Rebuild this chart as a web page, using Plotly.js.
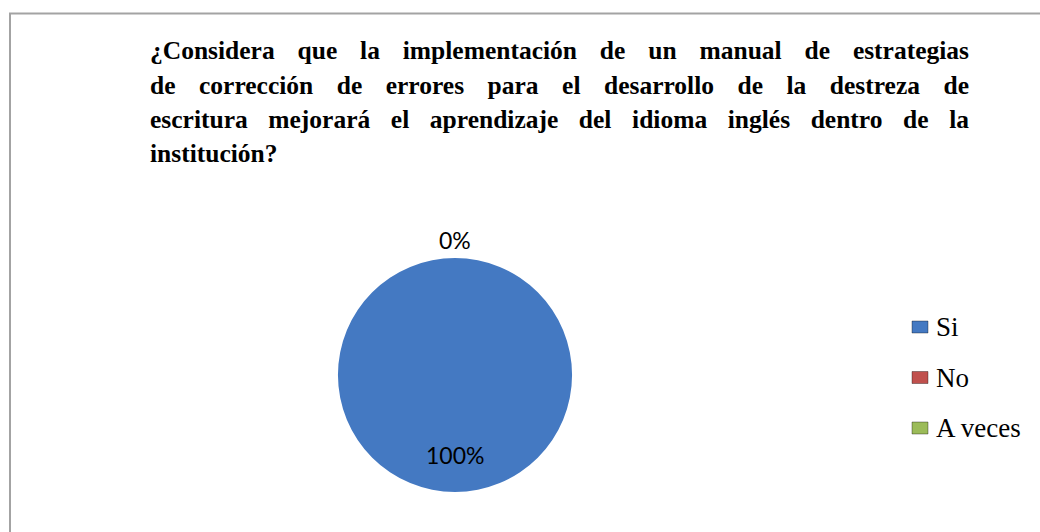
<!DOCTYPE html>
<html>
<head>
<meta charset="utf-8">
<script src="https://cdn.plot.ly/plotly-3.0.1.min.js"></script>
<style>
html,body{margin:0;padding:0;background:#fff;}
#chart{width:1040px;height:532px;}
</style>
</head>
<body>
<div id="chart"></div>
<script>
// ---- data ----
const categories = ['Si', 'No', 'A veces'];
const values = [100, 0, 0];
const sliceColors = ['#4479c2', '#c0504d', '#9bbb59'];
const titleLines = [
  '¿Considera que la implementación de un manual de estrategias',
  'de corrección de errores para el desarrollo de la destreza de',
  'escritura mejorará el aprendizaje del idioma inglés dentro de la',
  'institución?'
];

// ---- layout constants (pixels) ----
const W = 1040, H = 532;
const cx = 455, cy = 375, R = 117;
const px = x => x / W;
const py = y => 1 - y / H;
const SERIF = 'Liberation Serif';

const total = values.reduce((a, b) => a + b, 0);

const pie = {
  type: 'pie',
  labels: categories,
  values: values,
  sort: false,
  direction: 'clockwise',
  rotation: 0,
  textinfo: 'none',
  hoverinfo: 'skip',
  showlegend: false,
  marker: { colors: sliceColors, line: { width: 0 } },
  domain: { x: [px(cx - R), px(cx + R)], y: [py(cy + R), py(cy - R)] }
};

const annotations = [];
const shapes = [];

// title lines (justified after render)
const titleY = [51, 85, 119, 153];
titleLines.forEach((t, i) => {
  annotations.push({
    xref: 'paper', yref: 'paper', x: px(148), y: py(titleY[i]),
    xanchor: 'left', yanchor: 'middle', align: 'left', showarrow: false,
    text: '<b>' + t + '</b>',
    font: { family: SERIF, size: 25.5, color: '#000' }
  });
});

// percentage labels at each slice's mid-angle (clockwise from 12 o'clock)
let cum = 0;
const seen = {};
values.forEach((v, i) => {
  const frac = v / total;
  const mid = (cum + frac / 2) * 2 * Math.PI;
  cum += frac;
  const pct = Math.round(frac * 100) + '%';
  const k = frac > 0.05 ? 0.68 : 1.15;
  const x = cx + R * k * Math.sin(mid);
  const y = cy - R * k * Math.cos(mid);
  const key = pct + Math.round(x) + '_' + Math.round(y);
  if (seen[key]) return;
  seen[key] = true;
  annotations.push({
    xref: 'paper', yref: 'paper', x: px(x), y: py(y),
    xanchor: 'center', yanchor: 'middle', showarrow: false,
    text: pct, font: { family: 'Lato', size: 23, color: '#000' }
  });
});

// legend
const legTop = 327, legGap = 50.5;
categories.forEach((c, i) => {
  const yc = legTop + i * legGap;
  shapes.push({
    type: 'rect', xref: 'paper', yref: 'paper',
    x0: px(912), x1: px(928), y0: py(yc + 6), y1: py(yc - 6),
    fillcolor: sliceColors[i], line: { color: 'rgba(0,0,0,0.35)', width: 1 }
  });
  annotations.push({
    xref: 'paper', yref: 'paper', x: px(934), y: py(yc),
    xanchor: 'left', yanchor: 'middle', align: 'left', showarrow: false,
    text: c, font: { family: SERIF, size: 27, color: '#000' }
  });
});

// chart-area border
shapes.push({
  type: 'rect', xref: 'paper', yref: 'paper',
  x0: px(10), x1: 1.2, y0: -0.2, y1: py(13.5),
  line: { color: '#a3a3a3', width: 2 }, fillcolor: 'rgba(0,0,0,0)'
});

const layout = {
  width: W, height: H,
  margin: { l: 0, r: 0, t: 0, b: 0, pad: 0 },
  paper_bgcolor: '#fff',
  showlegend: false,
  annotations: annotations,
  shapes: shapes
};

Plotly.newPlot('chart', [pie], layout, { displayModeBar: false }).then(() => {
  const target = 967 - 148;
  document.querySelectorAll('#chart .annotation').forEach(g => {
    const idx = +g.getAttribute('data-index');
    if (idx > 2) return;
    const t = g.querySelector('text');
    if (!t) return;
    const w = t.getComputedTextLength();
    const spaces = (titleLines[idx].match(/ /g) || []).length;
    if (spaces > 0 && w < target) {
      t.style.wordSpacing = ((target - w) / spaces) + 'px';
    }
  });
});
</script>
</body>
</html>
